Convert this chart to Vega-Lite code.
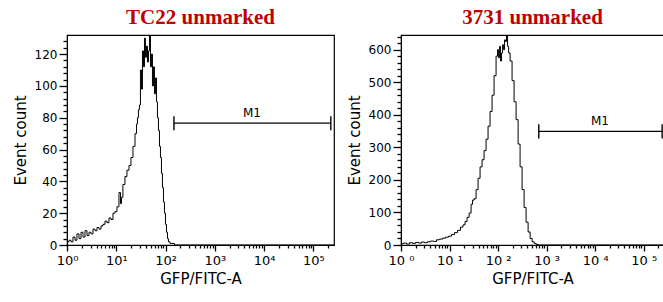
{
  "$schema": "https://vega.github.io/schema/vega-lite/v6.json",
  "background": "white",
  "padding": {"left": 12, "top": 6, "right": 0, "bottom": 0},
  "bounds": "flush",
  "spacing": 67,
  "datasets": {
    "tc22": [
      {"x": 1, "count": 101}, {"x": 1.048, "count": 2}, {"x": 1.15, "count": 3}, {"x": 1.26, "count": 2},
      {"x": 1.39, "count": 5}, {"x": 1.52, "count": 3}, {"x": 1.67, "count": 7}, {"x": 1.84, "count": 4},
      {"x": 2.01, "count": 8}, {"x": 2.21, "count": 5}, {"x": 2.43, "count": 9}, {"x": 2.67, "count": 6},
      {"x": 2.93, "count": 8}, {"x": 3.21, "count": 7}, {"x": 3.53, "count": 10}, {"x": 3.87, "count": 9},
      {"x": 4.25, "count": 11}, {"x": 4.67, "count": 10}, {"x": 5.13, "count": 12}, {"x": 5.63, "count": 13},
      {"x": 6.18, "count": 15}, {"x": 6.79, "count": 14}, {"x": 7.45, "count": 17}, {"x": 8.18, "count": 16},
      {"x": 8.98, "count": 20}, {"x": 9.86, "count": 21}, {"x": 10.8, "count": 24}, {"x": 11.9, "count": 33},
      {"x": 12.45, "count": 26}, {"x": 13.0, "count": 30}, {"x": 14.3, "count": 38}, {"x": 15.7, "count": 43},
      {"x": 17.3, "count": 47}, {"x": 19.0, "count": 50}, {"x": 20.8, "count": 55}, {"x": 22.9, "count": 62},
      {"x": 25.1, "count": 70}, {"x": 26.3, "count": 76}, {"x": 27.5, "count": 80}, {"x": 28.8, "count": 85},
      {"x": 30.2, "count": 88}, {"x": 31.7, "count": 110}, {"x": 33.2, "count": 98}, {"x": 34.8, "count": 122},
      {"x": 36.5, "count": 112}, {"x": 38.2, "count": 130}, {"x": 40.0, "count": 118}, {"x": 42.0, "count": 125},
      {"x": 44.0, "count": 115}, {"x": 46.1, "count": 122}, {"x": 48.3, "count": 140}, {"x": 50.6, "count": 112},
      {"x": 53.0, "count": 120}, {"x": 55.5, "count": 100}, {"x": 58.2, "count": 112}, {"x": 60.9, "count": 95},
      {"x": 63.9, "count": 105}, {"x": 66.9, "count": 90}, {"x": 70.1, "count": 80}, {"x": 73.5, "count": 72},
      {"x": 77.0, "count": 62}, {"x": 80.7, "count": 55}, {"x": 84.5, "count": 45}, {"x": 88.6, "count": 36},
      {"x": 92.8, "count": 27}, {"x": 97.3, "count": 20}, {"x": 102, "count": 13}, {"x": 107, "count": 8},
      {"x": 112, "count": 4}, {"x": 117, "count": 2}, {"x": 129, "count": 1}, {"x": 141, "count": 1},
      {"x": 163, "count": 0}, {"x": 262144, "count": 0}
    ],
    "s3731": [
      {"x": 1, "count": 162}, {"x": 1.049, "count": 4}, {"x": 1.21, "count": 6}, {"x": 1.39, "count": 3},
      {"x": 1.61, "count": 7}, {"x": 1.85, "count": 5}, {"x": 2.14, "count": 8}, {"x": 2.47, "count": 6},
      {"x": 2.84, "count": 9}, {"x": 3.28, "count": 7}, {"x": 3.78, "count": 10}, {"x": 4.36, "count": 12},
      {"x": 5.02, "count": 11}, {"x": 5.79, "count": 16}, {"x": 6.68, "count": 18}, {"x": 7.7, "count": 21},
      {"x": 8.88, "count": 24}, {"x": 10.2, "count": 27}, {"x": 11.8, "count": 32}, {"x": 13.6, "count": 38},
      {"x": 15.7, "count": 45}, {"x": 18.1, "count": 55}, {"x": 19.9, "count": 62}, {"x": 21.9, "count": 72},
      {"x": 24.1, "count": 85}, {"x": 26.5, "count": 98}, {"x": 29.1, "count": 125}, {"x": 30.5, "count": 138},
      {"x": 33.6, "count": 142}, {"x": 36.9, "count": 170}, {"x": 40.6, "count": 205}, {"x": 44.6, "count": 240},
      {"x": 49.1, "count": 262}, {"x": 53.9, "count": 290}, {"x": 59.3, "count": 325}, {"x": 65.2, "count": 365},
      {"x": 71.7, "count": 410}, {"x": 78.8, "count": 460}, {"x": 86.7, "count": 520}, {"x": 95.3, "count": 580},
      {"x": 100, "count": 600}, {"x": 105, "count": 575}, {"x": 110, "count": 610}, {"x": 115, "count": 565},
      {"x": 121, "count": 590}, {"x": 127, "count": 615}, {"x": 133, "count": 600}, {"x": 139, "count": 630},
      {"x": 146, "count": 625}, {"x": 153, "count": 650}, {"x": 161, "count": 610}, {"x": 169, "count": 590},
      {"x": 185, "count": 565}, {"x": 204, "count": 505}, {"x": 224, "count": 440}, {"x": 247, "count": 385},
      {"x": 271, "count": 310}, {"x": 298, "count": 240}, {"x": 328, "count": 170}, {"x": 360, "count": 115},
      {"x": 396, "count": 70}, {"x": 436, "count": 40}, {"x": 479, "count": 20}, {"x": 527, "count": 10},
      {"x": 579, "count": 5}, {"x": 637, "count": 2}, {"x": 700, "count": 0}, {"x": 262144, "count": 0}
    ],
    "m1_tc22": [{"x": 148, "x2": 226000, "count": 76.6}],
    "cap_tc22": [{"x": 148, "count": 72.2, "count2": 81.0}, {"x": 226000, "count": 72.2, "count2": 81.0}],
    "lab_tc22": [{"x": 5660, "count": 76.6, "label": "M1"}],
    "m1_3731": [{"x": 690, "x2": 240000, "count": 349}],
    "cap_3731": [{"x": 690, "count": 327, "count2": 371}, {"x": 240000, "count": 327, "count2": 371}],
    "lab_3731": [{"x": 12600, "count": 349, "label": "M1"}]
  },
  "hconcat": [
    {
      "width": 267,
      "height": 210,
      "title": {"text": "TC22 unmarked", "font": "Liberation Serif", "fontSize": 21, "fontWeight": "bold", "color": "#c00000", "offset": 7},
      "resolve": {"scale": {"x": "independent", "y": "independent"}},
      "layer": [
        {
          "encoding": {
            "x": {
              "field": "x", "type": "quantitative",
              "scale": {"type": "log", "domain": [1, 262144], "nice": false},
              "axis": {
                "title": "GFP/FITC-A", "orient": "bottom", "tickColor": "#000000", "tickWidth": 1.3,
                "values": [1, 10, 100, 1000, 10000, 100000],
                "labelExpr": "datum.value === 1 ? '10⁰' : datum.value === 10 ? '10¹' : datum.value === 100 ? '10²' : datum.value === 1000 ? '10³' : datum.value === 10000 ? '10⁴' : '10⁵'",
                "tickSize": 6, "labelFontSize": 13, "titleFontSize": 15, "labelPadding": 3, "titlePadding": 4
              }
            },
            "y": {
              "field": "count", "type": "quantitative",
              "scale": {"domain": [0, 132], "nice": false, "zero": false},
              "axis": {
                "title": "Event count", "orient": "left", "tickColor": "#000000", "tickWidth": 1.3,
                "values": [0, 20, 40, 60, 80, 100, 120],
                "tickSize": 8, "labelFontSize": 12, "titleFontSize": 15, "labelPadding": 2, "titlePadding": 6
              }
            }
          },
          "layer": [
            {"data": {"name": "tc22"}, "mark": {"type": "line", "interpolate": "step", "color": "black", "strokeWidth": 1, "clip": true}},
            {"data": {"name": "cap_tc22"}, "mark": {"type": "rule", "strokeWidth": 1.4, "color": "black"}, "encoding": {"y2": {"field": "count2"}}},
            {"data": {"name": "lab_tc22"}, "mark": {"type": "text", "font": "DejaVu Sans", "fontSize": 12, "baseline": "alphabetic", "dy": -6, "color": "black"}, "encoding": {"text": {"field": "label"}}}
          ]
        },
        {
          "data": {"name": "m1_tc22"},
          "mark": {"type": "rule", "color": "black", "strokeWidth": 1.4},
          "encoding": {
            "x": {
              "field": "x", "type": "quantitative",
              "scale": {"type": "log", "domain": [1, 262144], "nice": false},
              "axis": {
                "orient": "bottom", "title": null, "labels": false, "domain": false, "tickColor": "#000000", "tickWidth": 1.3, "tickSize": 3,
                "values": [2, 3, 4, 5, 6, 7, 8, 9, 20, 30, 40, 50, 60, 70, 80, 90, 200, 300, 400, 500, 600, 700, 800, 900, 2000, 3000, 4000, 5000, 6000, 7000, 8000, 9000, 20000, 30000, 40000, 50000, 60000, 70000, 80000, 90000, 200000]
              }
            },
            "x2": {"field": "x2"},
            "y": {
              "field": "count", "type": "quantitative",
              "scale": {"domain": [0, 132], "nice": false, "zero": false},
              "axis": {
                "orient": "left", "title": null, "labels": false, "domain": false, "tickColor": "#000000", "tickWidth": 1.3, "tickSize": 4,
                "values": [4, 8, 12, 16, 24, 28, 32, 36, 44, 48, 52, 56, 64, 68, 72, 76, 84, 88, 92, 96, 104, 108, 112, 116, 124, 128]
              }
            }
          }
        }
      ]
    },
    {
      "width": 263,
      "height": 210,
      "title": {"text": "3731 unmarked", "font": "Liberation Serif", "fontSize": 21, "fontWeight": "bold", "color": "#c00000", "offset": 7},
      "resolve": {"scale": {"x": "independent", "y": "independent"}},
      "layer": [
        {
          "encoding": {
            "x": {
              "field": "x", "type": "quantitative",
              "scale": {"type": "log", "domain": [1, 262144], "nice": false},
              "axis": {
                "title": "GFP/FITC-A", "orient": "bottom", "tickColor": "#000000", "tickWidth": 1.3,
                "values": [1, 10, 100, 1000, 10000, 100000],
                "labelExpr": "datum.value === 1 ? '10 ⁰' : datum.value === 10 ? '10 ¹' : datum.value === 100 ? '10 ²' : datum.value === 1000 ? '10 ³' : datum.value === 10000 ? '10 ⁴' : '10 ⁵'",
                "tickSize": 6, "labelFontSize": 13, "titleFontSize": 15, "labelPadding": 3, "titlePadding": 4
              }
            },
            "y": {
              "field": "count", "type": "quantitative",
              "scale": {"domain": [0, 645], "nice": false, "zero": false},
              "axis": {
                "title": "Event count", "orient": "left", "tickColor": "#000000", "tickWidth": 1.3,
                "values": [0, 100, 200, 300, 400, 500, 600],
                "tickSize": 8, "labelFontSize": 12, "titleFontSize": 15, "labelPadding": 2, "titlePadding": 6
              }
            }
          },
          "layer": [
            {"data": {"name": "s3731"}, "mark": {"type": "line", "interpolate": "step", "color": "black", "strokeWidth": 1, "clip": true}},
            {"data": {"name": "cap_3731"}, "mark": {"type": "rule", "strokeWidth": 1.4, "color": "black"}, "encoding": {"y2": {"field": "count2"}}},
            {"data": {"name": "lab_3731"}, "mark": {"type": "text", "font": "DejaVu Sans", "fontSize": 12, "baseline": "alphabetic", "dy": -6, "color": "black"}, "encoding": {"text": {"field": "label"}}}
          ]
        },
        {
          "data": {"name": "m1_3731"},
          "mark": {"type": "rule", "color": "black", "strokeWidth": 1.4},
          "encoding": {
            "x": {
              "field": "x", "type": "quantitative",
              "scale": {"type": "log", "domain": [1, 262144], "nice": false},
              "axis": {
                "orient": "bottom", "title": null, "labels": false, "domain": false, "tickColor": "#000000", "tickWidth": 1.3, "tickSize": 3,
                "values": [2, 3, 4, 5, 6, 7, 8, 9, 20, 30, 40, 50, 60, 70, 80, 90, 200, 300, 400, 500, 600, 700, 800, 900, 2000, 3000, 4000, 5000, 6000, 7000, 8000, 9000, 20000, 30000, 40000, 50000, 60000, 70000, 80000, 90000, 200000]
              }
            },
            "x2": {"field": "x2"},
            "y": {
              "field": "count", "type": "quantitative",
              "scale": {"domain": [0, 645], "nice": false, "zero": false},
              "axis": {
                "orient": "left", "title": null, "labels": false, "domain": false, "tickColor": "#000000", "tickWidth": 1.3, "tickSize": 4,
                "values": [20, 40, 60, 80, 120, 140, 160, 180, 220, 240, 260, 280, 320, 340, 360, 380, 420, 440, 460, 480, 520, 540, 560, 580, 620, 640]
              }
            }
          }
        }
      ]
    }
  ],
  "config": {
    "view": {"stroke": "black", "strokeWidth": 1.2},
    "axis": {
      "grid": false, "domainColor": "black", "labelColor": "black", "titleColor": "black",
      "labelFont": "DejaVu Sans", "titleFont": "DejaVu Sans", "titleFontWeight": "normal",
      "labelOverlap": false, "labelFlush": false, "domainWidth": 1
    }
  }
}
